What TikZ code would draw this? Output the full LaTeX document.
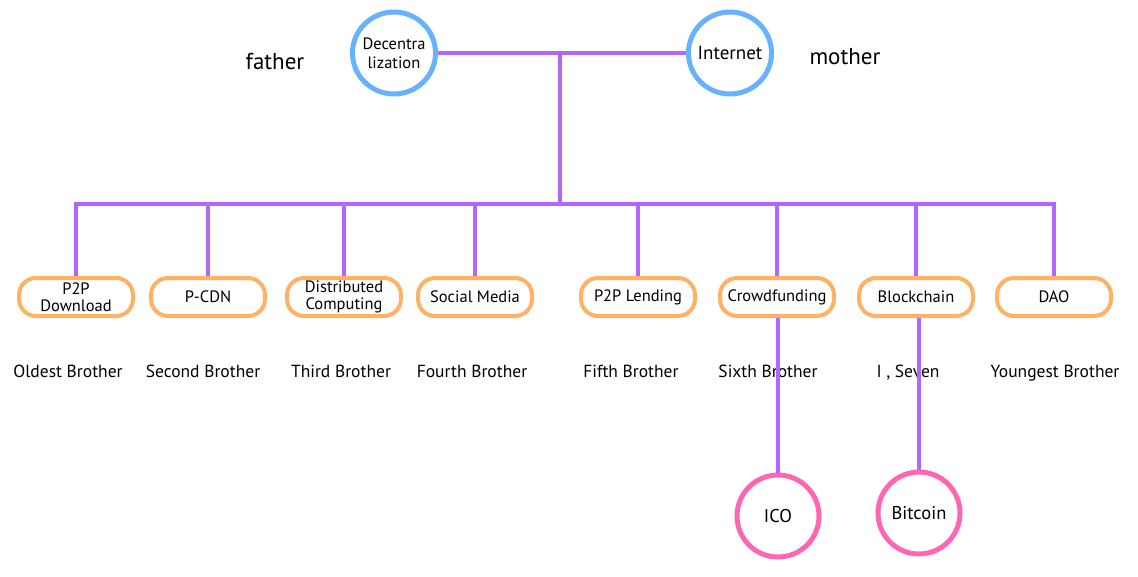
\documentclass[tikz,border=0pt]{standalone}
\usepackage{fontspec}
\setmainfont{PT Sans}
\usetikzlibrary{shapes.geometric,positioning}
\definecolor{parentblue}{HTML}{66B2FF}
\definecolor{linkpurple}{HTML}{B266FF}
\definecolor{boxorange}{HTML}{FFB266}
\definecolor{childpink}{HTML}{FF66B2}

\begin{document}
\begin{tikzpicture}[x=1pt,y=-1pt,font=\fontsize{16.5}{17.5}\selectfont,
  par/.style={draw=parentblue,line width=5pt,ellipse,minimum width=83pt,minimum height=82pt,inner sep=-3pt,align=center,font=\fontsize{16.5}{19}\selectfont},
  kid/.style={draw=boxorange,line width=4pt,rounded corners=17pt,minimum width=114pt,minimum height=38pt,inner sep=0pt,align=center},
  coin/.style={draw=childpink,line width=5pt,circle,minimum size=82pt,inner sep=0pt,font=\fontsize{18.5}{22}\selectfont},
  rank/.style={anchor=base,font=\fontsize{17.5}{20}\selectfont},
  role/.style={font=\fontsize{23}{26}\selectfont},
  link/.style={draw=linkpurple,line width=4pt}]
\useasboundingbox (0,0) rectangle (1138,576);
% parents
\node[par] (dec) at (394,53) {Decentra\\lization};
\node[par,font=\fontsize{19}{22}\selectfont] (net) at (730,53) {Internet};
\node[role] (father) at (275,62) {father};
\node[role] (mother) at (845,57) {mother};
% children
\node[kid] (p2p) at (76,297) {P2P\\Download};
\node[kid] (cdn) at (208,297) {P-CDN};
\node[kid] (dist) at (344,297) {Distributed\\Computing};
\node[kid] (soc) at (475,297) {Social Media};
\node[kid] (lend) at (638,297) {P2P Lending};
\node[kid] (crowd) at (777,297) {Crowdfunding};
\node[kid] (chain) at (916,297) {Blockchain};
\node[kid] (dao) at (1054,297) {DAO};
\node[rank] at (68,377) {Oldest Brother};
\node[rank] at (203,377) {Second Brother};
\node[rank] at (341,377) {Third Brother};
\node[rank] at (472,377) {Fourth Brother};
\node[rank] at (631,377) {Fifth Brother};
\node[rank] at (768,377) {Sixth Brother};
\node[rank] at (908,377) {I , Seven};
\node[rank] at (1055,377) {Youngest Brother};
% grandchildren
\node[coin] (ico) at (778,516) {ICO};
\node[coin] (btc) at (919,513) {Bitcoin};
% lines
\coordinate (join) at (560,53);
\coordinate (bus) at (560,204);
\draw[link] (dec) -- (net);
\draw[link] (join) -- (bus);
\draw[link] (p2p.north) |- (bus) -| (dao.north);
\foreach \k in {cdn,dist,soc,lend,crowd,chain}
  \draw[link] (\k.north) -- (\k.north |- bus);
\draw[link] (crowd.south -| ico) -- (ico);
\draw[link] (chain.south -| btc) -- (btc);
\end{tikzpicture}
\end{document}
